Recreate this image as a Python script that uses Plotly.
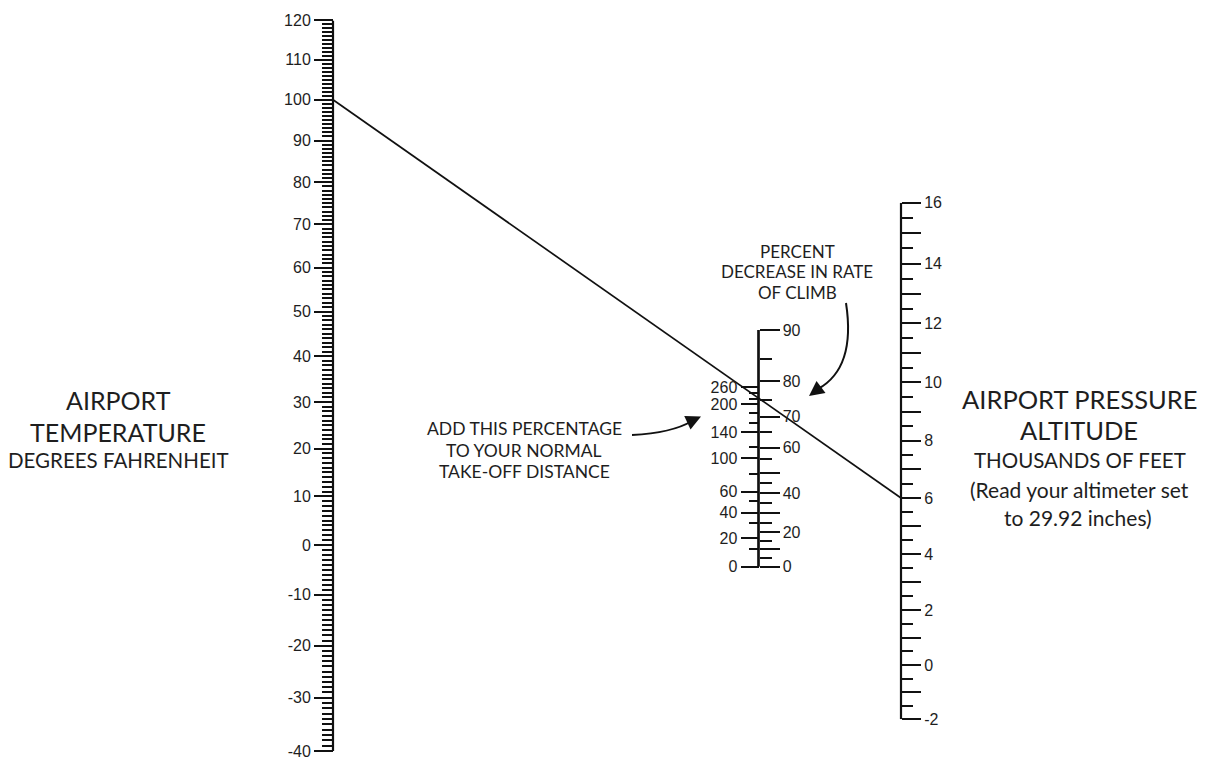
import numpy as np
import plotly.graph_objects as go

# ---------------- data ----------------
temp_major = [-40, -30, -20, -10, 0, 10, 20, 30, 40, 50, 60, 70, 80, 90, 100, 110, 120]   # deg F
temp_minor = [t for t in range(-40, 121) if t % 10 != 0]

alt_major = [-2, -1, 0, 1, 2, 3, 4, 5, 6, 7, 8, 9, 10, 11, 12, 13, 14, 15, 16]  # thousands of feet
alt_text = ["-2", "", "0", "", "2", "", "4", "", "6", "", "8", "", "10", "", "12", "", "14", "", "16"]
alt_minor = [-1.5, -0.5, 0.5, 1.5, 2.5, 3.5, 4.5, 5.5, 6.5, 7.5, 8.5, 9.5, 10.5, 11.5, 12.5, 13.5, 14.5, 15.5]

# percent to add to take-off distance, with the density ratio each tick stands for
takeoff_pct = [0, 10, 20, 30, 40, 50, 60, 80, 100, 120, 140, 160, 180, 200, 220, 240, 260]
takeoff_sigma = [1.000, 0.970, 0.951, 0.925, 0.909, 0.891, 0.876, 0.849, 0.825, 0.809,
                 0.788, 0.775, 0.762, 0.750, 0.744, 0.735, 0.728]
takeoff_labeled = [0, 20, 40, 60, 100, 140, 200, 260]

# percent decrease in rate of climb, with the density ratio each tick stands for
climb_pct = [0, 5, 10, 15, 20, 25, 30, 35, 40, 45, 50, 55, 60, 65, 70, 75, 80, 85, 90]
climb_sigma = [1.000, 0.985, 0.970, 0.955, 0.941, 0.925, 0.909, 0.894, 0.878, 0.862,
               0.847, 0.827, 0.810, 0.788, 0.767, 0.745, 0.720, 0.693, 0.658]
climb_labeled = [0, 20, 40, 60, 70, 80, 90]

example_temp_f = 100
example_alt_kft = 6


# ---------------- scale functions ----------------
def rankine(t_f):
    return t_f + 459.67


def pressure_ratio(kft):
    return (1 - 6.8756e-3 * kft) ** 5.2559


# ---------------- layout geometry (page pixels) ----------------
W, H = 1211, 758
OFF = 8                      # page body margin in front of the figure
X_TEMP, X_MID, X_ALT = 333, 758.5, 901
TEMP_PX = (751.0, 20.4)      # page rows of -40 and 120
ALT_PX = (719.3, 202.7)      # page rows of -2 and 16
MID_PX = (566.7, 330.0)      # page rows of sigma=1 and top of scale


def dom(px):
    return [1 - (px[0] - OFF) / H, 1 - (px[1] - OFF) / H]


def pos(x):
    return (x - OFF) / W


temp_range = [np.log10(rankine(temp_major[0])), np.log10(rankine(temp_major[-1]))]
alt_range = [np.log10(pressure_ratio(alt_major[0])), np.log10(pressure_ratio(alt_major[-1]))]
mid_range = [np.log10(climb_sigma[0]), np.log10(climb_sigma[-1])]


def to_px(value, rng, px):
    f = (np.log10(value) - rng[0]) / (rng[1] - rng[0])
    return px[0] + f * (px[1] - px[0])


INK = "#111111"
TXT = "#1e1e1e"
TICKFONT = dict(family="Liberation Sans, Arial, sans-serif", size=16, color=TXT)
LABELFONT = "Lato, Open Sans, sans-serif"

common = dict(showgrid=False, zeroline=False, showline=False, anchor="free", automargin=False,
              type="log", tickmode="array", ticks="outside", tickcolor=INK,
              tickfont=TICKFONT, fixedrange=True)

fig = go.Figure()

# scale lines
fig.add_trace(go.Scatter(x=[X_TEMP, X_TEMP], y=[rankine(temp_major[0]), rankine(temp_major[-1])],
                         xaxis="x", yaxis="y2", mode="lines", line=dict(color=INK, width=2.2),
                         hoverinfo="skip", showlegend=False))
fig.add_trace(go.Scatter(x=[X_ALT, X_ALT], y=[pressure_ratio(alt_major[0]), pressure_ratio(alt_major[-1])],
                         xaxis="x", yaxis="y3", mode="lines", line=dict(color=INK, width=2.2),
                         hoverinfo="skip", showlegend=False))
fig.add_trace(go.Scatter(x=[X_MID, X_MID], y=[takeoff_sigma[0], climb_sigma[-1]],
                         xaxis="x", yaxis="y4", mode="lines", line=dict(color=INK, width=2.2),
                         hoverinfo="skip", showlegend=False))
fig.add_trace(go.Scatter(x=[X_MID, X_MID], y=[climb_sigma[0], climb_sigma[-1]],
                         xaxis="x", yaxis="y5", mode="lines", line=dict(color=INK, width=2.2),
                         hoverinfo="skip", showlegend=False))

# example reading line: temperature -> pressure altitude
y_start = to_px(rankine(example_temp_f), temp_range, TEMP_PX)
y_end = to_px(pressure_ratio(example_alt_kft), alt_range, ALT_PX)
fig.add_trace(go.Scatter(x=[X_TEMP, X_ALT], y=[y_start, y_end], xaxis="x", yaxis="y",
                         mode="lines", line=dict(color=INK, width=1.7),
                         hoverinfo="skip", showlegend=False))

to_major = [s for p, s in zip(takeoff_pct, takeoff_sigma) if p in takeoff_labeled]
to_minor = [s for p, s in zip(takeoff_pct, takeoff_sigma) if p not in takeoff_labeled]
cl_major = [s for p, s in zip(climb_pct, climb_sigma) if p % 10 == 0]
cl_major_text = [str(p) if p in climb_labeled else "" for p in climb_pct if p % 10 == 0]
cl_minor = [s for p, s in zip(climb_pct, climb_sigma) if p % 10 != 0]

fig.update_layout(
    width=W, height=H, margin=dict(l=0, r=0, t=0, b=0, pad=0, autoexpand=False),
    paper_bgcolor="white", plot_bgcolor="rgba(0,0,0,0)", showlegend=False,
    xaxis=dict(range=[OFF, W + OFF], domain=[0, 1], visible=False, fixedrange=True, automargin=False),
    yaxis=dict(range=[H + OFF, OFF], domain=[0, 1], visible=False, fixedrange=True, automargin=False),
    yaxis2=dict(common, domain=dom(TEMP_PX), range=temp_range, position=pos(X_TEMP), side="left",
                tickvals=[rankine(t) for t in temp_major], ticktext=[str(t) for t in temp_major],
                ticklen=19, tickwidth=1.8,
                minor=dict(tickmode="array", tickvals=[rankine(t) for t in temp_minor],
                           ticks="outside", ticklen=11, tickwidth=1.5, tickcolor=INK, showgrid=False)),
    yaxis3=dict(common, domain=dom(ALT_PX), range=alt_range, position=pos(X_ALT), side="right",
                tickvals=[pressure_ratio(a) for a in alt_major], ticktext=alt_text,
                ticklen=19, tickwidth=2,
                minor=dict(tickmode="array", tickvals=[pressure_ratio(a) for a in alt_minor],
                           ticks="outside", ticklen=11, tickwidth=2, tickcolor=INK, showgrid=False)),
    yaxis4=dict(common, domain=dom(MID_PX), range=mid_range, position=pos(X_MID), side="left",
                tickvals=to_major, ticktext=[str(p) for p in takeoff_labeled],
                ticklen=18, tickwidth=2,
                minor=dict(tickmode="array", tickvals=to_minor,
                           ticks="outside", ticklen=10, tickwidth=2, tickcolor=INK, showgrid=False)),
    yaxis5=dict(common, domain=dom(MID_PX), range=mid_range, position=pos(X_MID), side="right",
                tickvals=cl_major, ticktext=cl_major_text,
                ticklen=20, tickwidth=2,
                minor=dict(tickmode="array", tickvals=cl_minor,
                           ticks="outside", ticklen=12, tickwidth=2, tickcolor=INK, showgrid=False)),
)

# ---------------- texts ----------------
texts = [
    ("AIRPORT", 118, 399.5, 25), ("TEMPERATURE", 118, 431.5, 25), ("DEGREES FAHRENHEIT", 118, 459.5, 20.5),
    ("AIRPORT PRESSURE", 1079, 399, 25.5), ("ALTITUDE", 1079, 430, 25.5),
    ("THOUSANDS OF FEET", 1080, 459.5, 20.5), ("(Read your altimeter set", 1079, 489, 21),
    ("to 29.92 inches)", 1078, 517.5, 21),
    ("ADD THIS PERCENTAGE", 524, 428.5, 17.5), ("TO YOUR NORMAL", 524, 450, 17.5),
    ("TAKE-OFF DISTANCE", 524, 471.5, 17.5),
    ("PERCENT", 797, 251, 17), ("DECREASE IN RATE", 797, 271, 17), ("OF CLIMB", 797, 292.5, 17),
]
for t, x, y, s in texts:
    fig.add_annotation(text=t, x=x, y=y, xref="x", yref="y", showarrow=False,
                       xanchor="center", yanchor="middle",
                       font=dict(family=LABELFONT, size=s, color=TXT))

# curved pointer arrows
fig.add_shape(type="path", xref="x", yref="y", path="M 632,435 Q 672,433 692,421",
              line=dict(color=INK, width=2))
fig.add_annotation(x=701, y=416.5, xref="x", yref="y", text="", showarrow=True,
                   ax=-13, ay=6, arrowhead=2, arrowsize=1.5, arrowwidth=2, arrowcolor=INK, standoff=0)
fig.add_shape(type="path", xref="x", yref="y", path="M 846,303 Q 856,368 818,389",
              line=dict(color=INK, width=2))
fig.add_annotation(x=809, y=396, xref="x", yref="y", text="", showarrow=True,
                   ax=12, ay=-9, arrowhead=2, arrowsize=1.5, arrowwidth=2, arrowcolor=INK, standoff=0)

fig.write_html("out.html")
